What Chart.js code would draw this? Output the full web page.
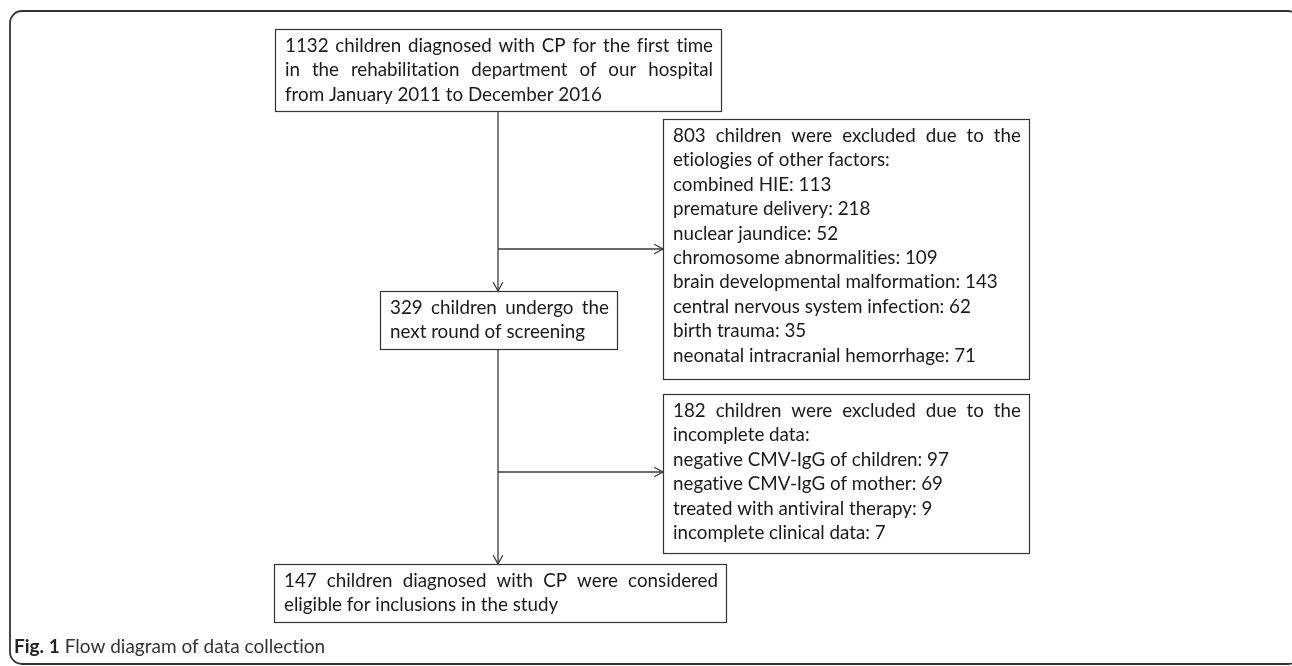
<!DOCTYPE html>
<html>
<head>
<meta charset="utf-8">
<script src="https://cdn.jsdelivr.net/npm/chart.js@4.4.1/dist/chart.umd.min.js"></script>
<style>
  html, body { margin: 0; padding: 0; background: #fff; }
  canvas { display: block; }
</style>
</head>
<body>
<canvas id="flow" width="1292" height="666"></canvas>
<script>
/* Data */
const stageCounts = [1132, 329, 147];
const excludedTotals = [803, 182];
const etiologyReasons = ["combined HIE", "premature delivery", "nuclear jaundice", "chromosome abnormalities",
  "brain developmental malformation", "central nervous system infection", "birth trauma",
  "neonatal intracranial hemorrhage"];
const etiologyCounts = [113, 218, 52, 109, 143, 62, 35, 71];
const dataReasons = ["negative CMV-IgG of children", "negative CMV-IgG of mother",
  "treated with antiviral therapy", "incomplete clinical data"];
const dataCounts = [97, 69, 9, 7];

/* Layout (diagram units = pixels of the figure) */
const boxRects = [
  [275, 29, 721, 111],   // intake
  [663, 119, 1029, 379], // etiology exclusions
  [380, 291, 617, 349],  // next screening
  [663, 394, 1029, 553], // data exclusions
  [274, 564, 726, 622]   // included
];
const trunkX = 498;
const connectors = [
  [[trunkX, 111], [trunkX, 291]],
  [[trunkX, 249], [663, 249]],
  [[trunkX, 349], [trunkX, 564]],
  [[trunkX, 472], [663, 472]]
];
const lineColor = "#3a3a3a";
const textFont = "18.8px Lato";
const lineStep = 24.4;

// text lines for each box, [text, justified]
const boxLines = [
  [[stageCounts[0] + " children diagnosed with CP for the first time", true],
   ["in the rehabilitation department of our hospital", true],
   ["from January 2011 to December 2016", false]],
  [[excludedTotals[0] + " children were excluded due to the", true],
   ["etiologies of other factors:", false]].concat(
    etiologyReasons.map((r, i) => [r + ": " + etiologyCounts[i], false])),
  [[stageCounts[1] + " children undergo the", true],
   ["next round of screening", false]],
  [[excludedTotals[1] + " children were excluded due to the", true],
   ["incomplete data:", false]].concat(
    dataReasons.map((r, i) => [r + ": " + dataCounts[i], false])),
  [[stageCounts[2] + " children diagnosed with CP were considered", true],
   ["eligible for inclusions in the study", false]]
];

function drawLine(ctx, text, x, y, width, justify) {
  if (!justify) {
    ctx.fillText(text, x, y);
    return;
  }
  const words = text.split(" ");
  const total = words.reduce((s, w) => s + ctx.measureText(w).width, 0);
  const gap = (width - total) / (words.length - 1);
  let cx = x;
  words.forEach(w => {
    ctx.fillText(w, cx, y);
    cx += ctx.measureText(w).width + gap;
  });
}

const flowPlugin = {
  id: "flow",
  beforeDraw(chart) {
    const ctx = chart.ctx;
    const xs = chart.scales.x, ys = chart.scales.y;
    ctx.save();
    ctx.fillStyle = "#fff";
    ctx.fillRect(0, 0, chart.width, chart.height);
    // outer figure frame
    ctx.beginPath();
    ctx.roundRect(xs.getPixelForValue(10), ys.getPixelForValue(11),
      xs.getPixelForValue(1300) - xs.getPixelForValue(10),
      ys.getPixelForValue(664) - ys.getPixelForValue(11), 12);
    ctx.lineWidth = 1.8;
    ctx.strokeStyle = "#333";
    ctx.stroke();
    ctx.restore();
  },
  afterDatasetsDraw(chart) {
    const ctx = chart.ctx;
    const xs = chart.scales.x, ys = chart.scales.y;
    ctx.save();
    ctx.textRendering = "optimizeSpeed"; // no ligatures, like the original
    // arrow heads
    ctx.strokeStyle = lineColor;
    ctx.lineWidth = 1.3;
    connectors.forEach(seg => {
      const a = seg[seg.length - 2], b = seg[seg.length - 1];
      const bx = xs.getPixelForValue(b[0]), by = ys.getPixelForValue(b[1]);
      const ang = Math.atan2(by - ys.getPixelForValue(a[1]), bx - xs.getPixelForValue(a[0]));
      const len = 10, spread = 0.5;
      ctx.beginPath();
      ctx.moveTo(bx - len * Math.cos(ang - spread), by - len * Math.sin(ang - spread));
      ctx.lineTo(bx, by);
      ctx.lineTo(bx - len * Math.cos(ang + spread), by - len * Math.sin(ang + spread));
      ctx.stroke();
    });
    // boxes with text
    ctx.font = textFont;
    ctx.textBaseline = "alphabetic";
    boxRects.forEach((r, i) => {
      const x0 = xs.getPixelForValue(r[0]), y0 = ys.getPixelForValue(r[1]);
      const x1 = xs.getPixelForValue(r[2]), y1 = ys.getPixelForValue(r[3]);
      ctx.fillStyle = "#fff";
      ctx.fillRect(x0, y0, x1 - x0, y1 - y0);
      ctx.lineWidth = 1.2;
      ctx.strokeStyle = "#333";
      ctx.strokeRect(x0 + 0.5, y0 + 0.5, x1 - x0, y1 - y0);
      ctx.fillStyle = "#1a1a1a";
      boxLines[i].forEach((ln, j) => {
        drawLine(ctx, ln[0], x0 + 10, y0 + 23 + j * lineStep, x1 - x0 - 18, ln[1]);
      });
    });
    // caption
    ctx.fillStyle = "#222";
    ctx.font = "bold 19px Lato";
    ctx.fillText("Fig. 1", 14, 653);
    const w = ctx.measureText("Fig. 1").width;
    ctx.font = "19px Lato";
    ctx.fillStyle = "#333";
    ctx.fillText("Flow diagram of data collection", 14 + w + 5, 653);
    ctx.restore();
  }
};

new Chart(document.getElementById("flow"), {
  type: "scatter",
  data: {
    datasets: connectors.map(seg => ({
      data: seg.map(p => ({ x: p[0], y: p[1] })),
      showLine: true,
      borderColor: lineColor,
      borderWidth: 1.3,
      pointRadius: 0,
      clip: false
    }))
  },
  options: {
    responsive: false,
    animation: false,
    devicePixelRatio: 1,
    layout: { padding: 0 },
    plugins: { legend: { display: false }, tooltip: { enabled: false } },
    scales: {
      x: { type: "linear", min: 0, max: 1292, display: false },
      y: { type: "linear", min: 0, max: 666, reverse: true, display: false }
    }
  },
  plugins: [flowPlugin]
});
</script>
</body>
</html>
